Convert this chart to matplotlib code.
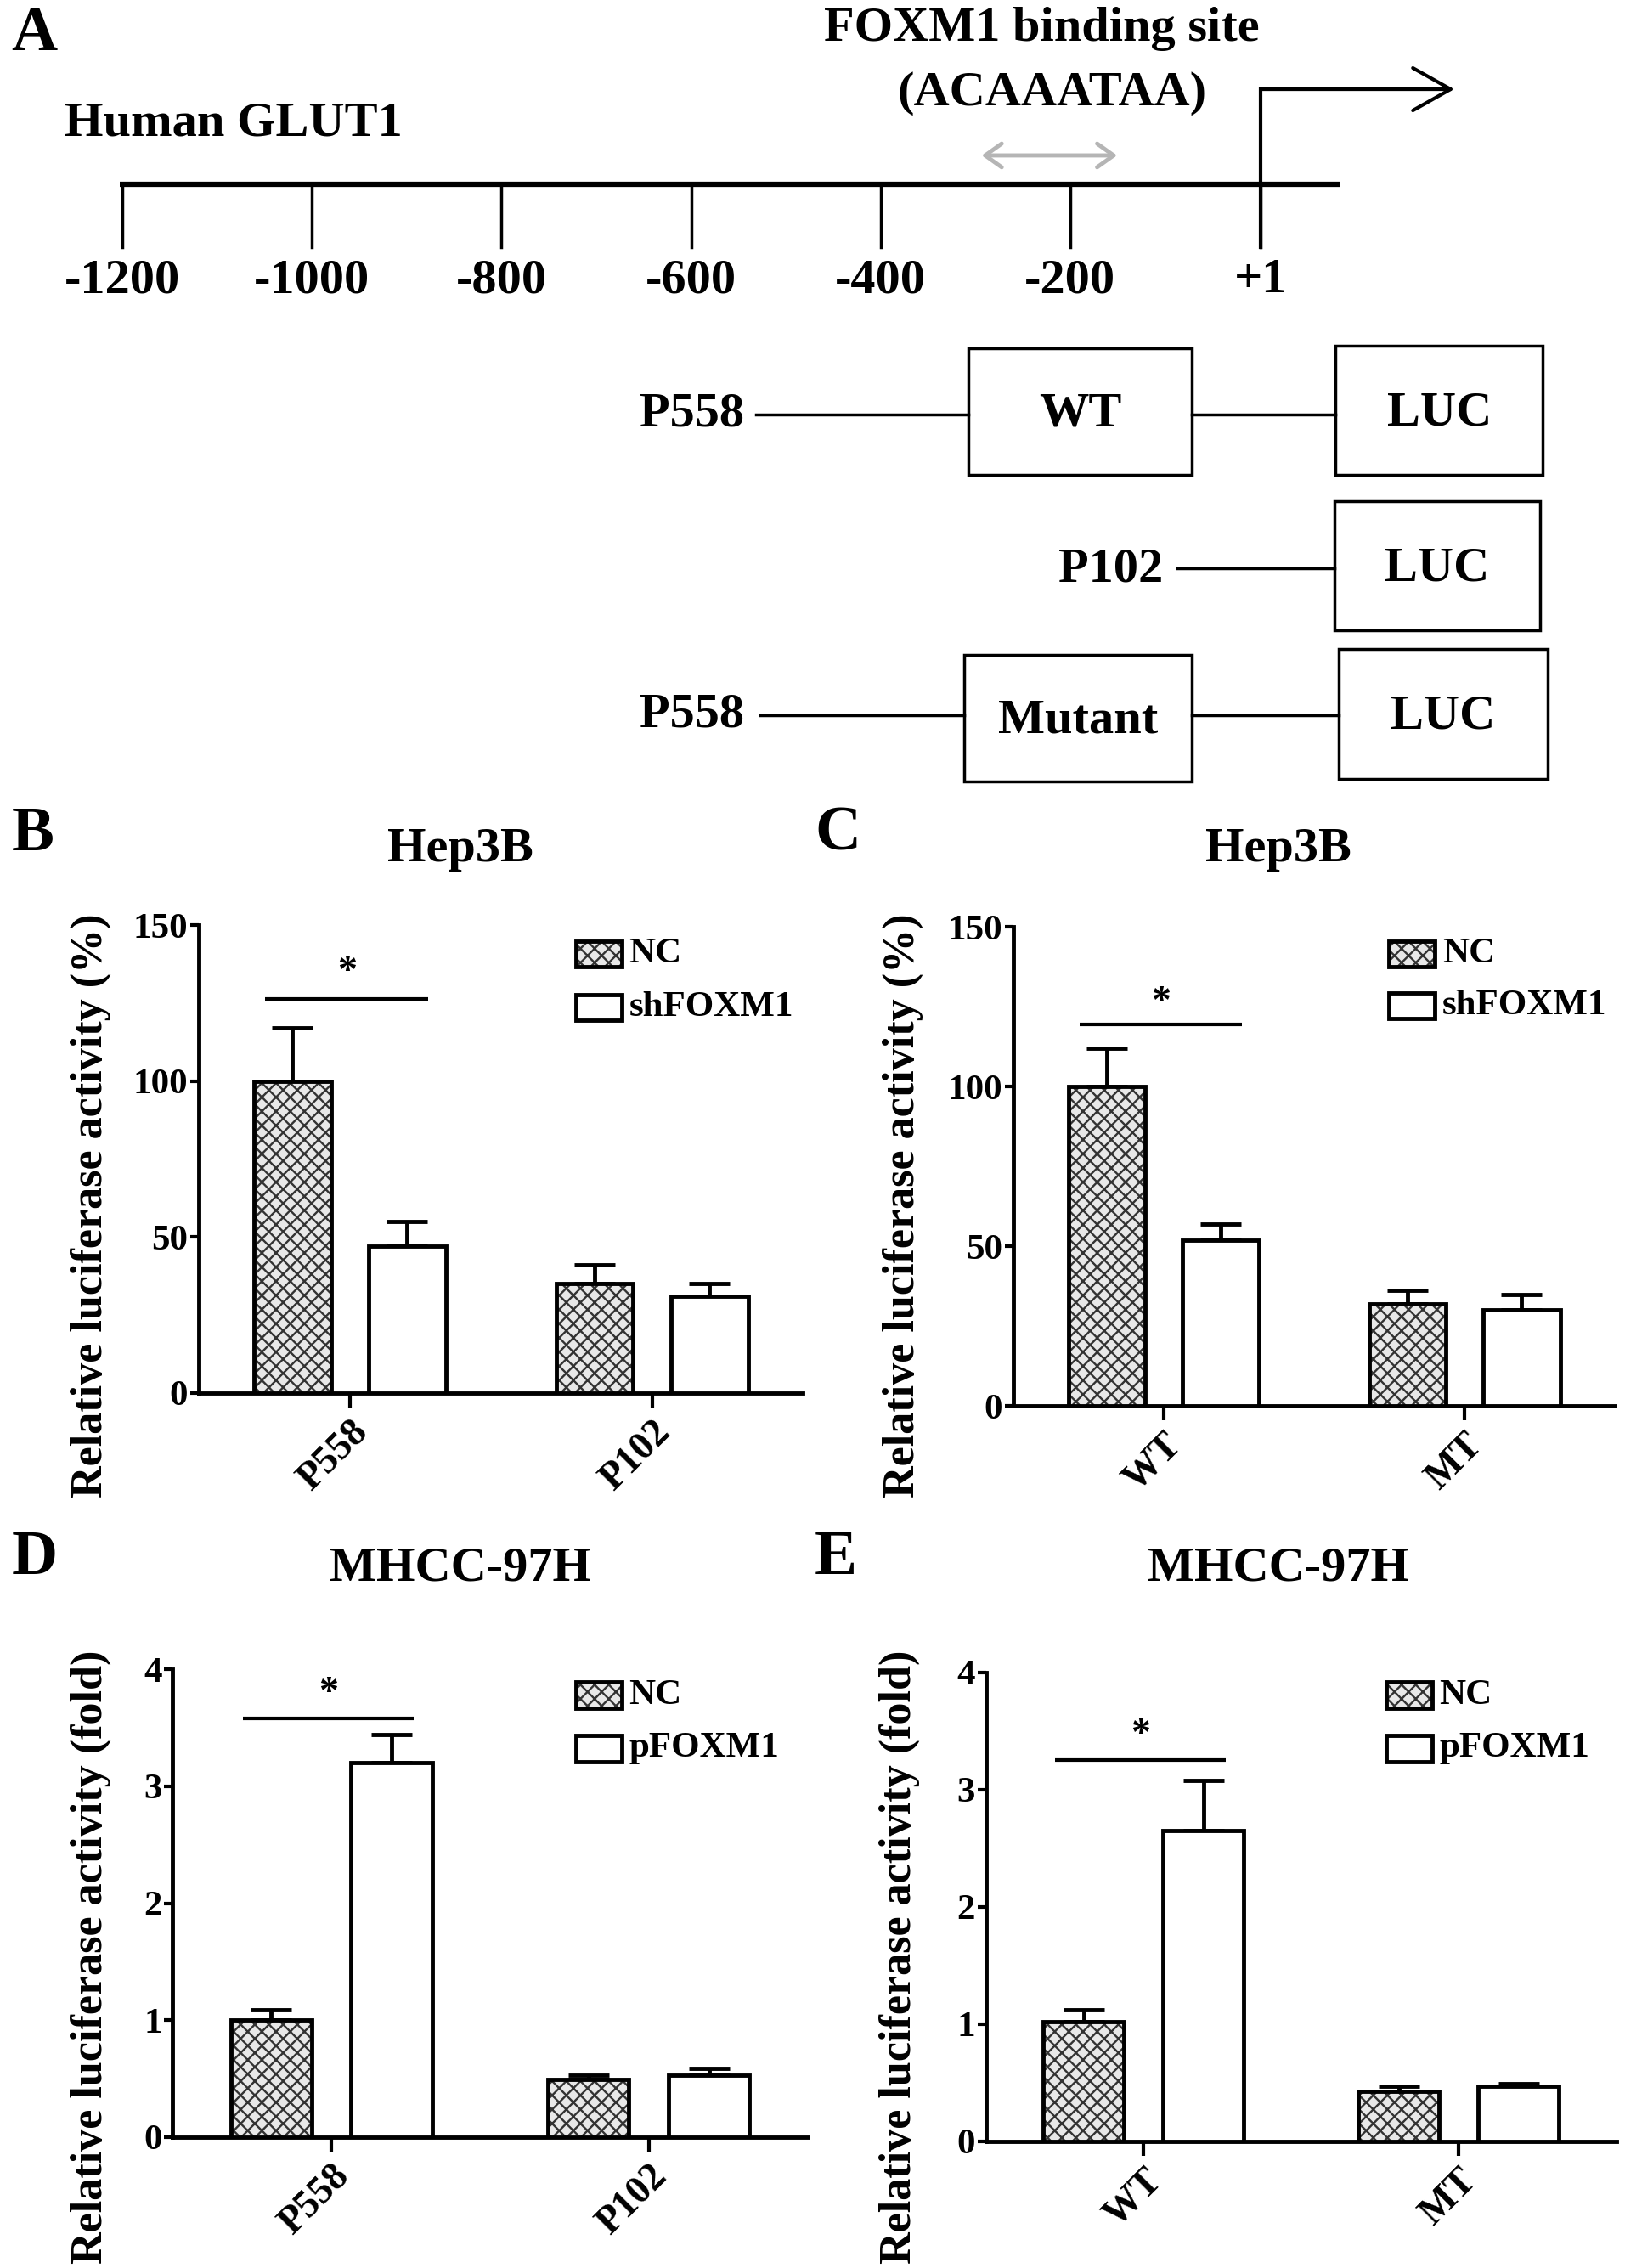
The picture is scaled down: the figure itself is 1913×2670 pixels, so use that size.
import matplotlib
matplotlib.use('Agg')
import matplotlib.pyplot as plt
from matplotlib.patches import Rectangle, FancyArrowPatch
import numpy as np

plt.rcParams['font.family'] = ['Liberation Serif', 'DejaVu Serif']
plt.rcParams['font.weight'] = 'bold'
plt.rcParams['hatch.linewidth'] = 1.7

# ---------------- data ----------------
promoter_ticks = [-1200, -1000, -800, -600, -400, -200, 1]
promoter_labels = ['-1200', '-1000', '-800', '-600', '-400', '-200', '+1']
binding_site_bp = [-296, -148]

cats_B = ['P558', 'P102']
nc_B = [100, 35]
sh_B = [47, 31]
nc_B_err = [17, 6]
sh_B_err = [8, 4]
sig_B = 126.5

cats_C = ['WT', 'MT']
nc_C = [100, 32]
sh_C = [52, 30]
nc_C_err = [12, 4.2]
sh_C_err = [5, 5]
sig_C = 119.5

cats_D = ['P558', 'P102']
nc_D = [1.0, 0.49]
p_D = [3.2, 0.53]
nc_D_err = [0.09, 0.04]
p_D_err = [0.24, 0.06]
sig_D = 3.58

cats_E = ['WT', 'MT']
nc_E = [1.02, 0.43]
p_E = [2.65, 0.47]
nc_E_err = [0.10, 0.04]
p_E_err = [0.43, 0.025]
sig_E = 3.25

W, H = 1129.0, 1576.0
fig = plt.figure(figsize=(19.13, 26.70), dpi=100)

FACE = '#e8e8e8'
HCOL = '#333333'
HATCH = 'xx'


def add_axes_px(l, r, t, b):
    return fig.add_axes([l / W, 1 - b / H, (r - l) / W, (b - t) / H])


def bar_panel(box, cats, nc, tr, nc_err, tr_err, ylim, yticks, sig, star_c):
    ax = add_axes_px(*box)
    ax.patch.set_visible(False)
    x = np.arange(len(cats))
    w, off = 0.255, 0.19
    # hatched fill, then black outline on top
    ax.bar(x - off, nc, w, color=FACE, edgecolor=HCOL, linewidth=0, hatch=HATCH, zorder=3)
    ax.bar(x - off, nc, w, fill=False, edgecolor='k', linewidth=3.5, zorder=4)
    ax.bar(x + off, tr, w, color='white', edgecolor='k', linewidth=3.5, zorder=3)
    ax.errorbar(x - off, nc, yerr=[np.zeros(len(nc)), nc_err], fmt='none', ecolor='k',
                elinewidth=3.5, capsize=17, capthick=3.5, zorder=2)
    ax.errorbar(x + off, tr, yerr=[np.zeros(len(tr)), tr_err], fmt='none', ecolor='k',
                elinewidth=3.5, capsize=17, capthick=3.5, zorder=2)
    ax.set_xlim(-0.5, 1.5)
    ax.set_ylim(*ylim)
    ax.set_yticks(yticks)
    ax.set_yticklabels([str(t) for t in yticks], fontsize=31)
    for s in ['top', 'right']:
        ax.spines[s].set_visible(False)
    for s in ['left', 'bottom']:
        ax.spines[s].set_linewidth(3.5)
    ax.set_xticks(x)
    ax.set_xticklabels(cats, rotation=45, ha='right', va='top', rotation_mode='anchor', fontsize=33)
    ax.tick_params(axis='x', length=12, width=3, direction='out', pad=6)
    ax.tick_params(axis='y', length=7, width=3, direction='out', pad=2)
    ax.plot([-0.28, 0.26], [sig, sig], color='k', lw=3, clip_on=False, solid_capstyle='butt')
    ax.annotate('*', xy=(-0.01, star_c), xytext=(0, -16), textcoords='offset points',
                ha='center', va='baseline', fontsize=33)
    return ax


bar_panel((138, 558, 643, 968), cats_B, nc_B, sh_B, nc_B_err, sh_B_err, (0, 150), [0, 50, 100, 150], sig_B, 138)
bar_panel((704, 1122, 644, 977), cats_C, nc_C, sh_C, nc_C_err, sh_C_err, (0, 150), [0, 50, 100, 150], sig_C, 129)
bar_panel((120, 561, 1160, 1485), cats_D, nc_D, p_D, nc_D_err, p_D_err, (0, 4), [0, 1, 2, 3, 4], sig_D, 3.87)
bar_panel((685, 1123, 1162, 1488), cats_E, nc_E, p_E, nc_E_err, p_E_err, (0, 4), [0, 1, 2, 3, 4], sig_E, 3.54)

# ---------------- overlay (panel A + labels) ----------------
ov = fig.add_axes([0, 0, 1, 1])
ov.set_xlim(0, W)
ov.set_ylim(H, 0)
ov.axis('off')
ov.set_zorder(10)
ov.patch.set_visible(False)


def bp2x(bp):
    return 875.3 + 0.6586 * bp


ov.text(8, 24, 'A', fontsize=54, ha='left', va='center')
ov.text(724, 20, 'FOXM1 binding site', fontsize=42, ha='center', va='center')
ov.text(731, 65, '(ACAAATAA)', fontsize=42, ha='center', va='center')
ov.text(45, 86, 'Human GLUT1', fontsize=42, ha='left', va='center')

ov.plot([bp2x(-1203), bp2x(84)], [128, 128], color='k', lw=4.5, solid_capstyle='butt')
for t, lab in zip(promoter_ticks, promoter_labels):
    xx = bp2x(t)
    ov.plot([xx, xx], [128, 172], color='k', lw=2.5)
    ov.text(xx, 195, lab, fontsize=42, ha='center', va='center')
x1 = bp2x(1)
ov.plot([x1, x1], [172, 62], color='k', lw=3)
ov.add_patch(FancyArrowPatch((x1 - 1, 62), (1012, 62), arrowstyle='->,head_length=1.6,head_width=0.9',
                             mutation_scale=20, color='k', lw=3))
ov.add_patch(FancyArrowPatch((bp2x(binding_site_bp[0]), 108), (bp2x(binding_site_bp[1]), 108),
                             arrowstyle='<->,head_length=0.7,head_width=0.5', mutation_scale=20,
                             color='#b5b5b5', lw=3.5))

# constructs
def box(x0, x1_, y0, y1, label):
    ov.add_patch(Rectangle((x0, y0), x1_ - x0, y1 - y0, fill=False, edgecolor='k', lw=2.5))
    ov.text((x0 + x1_) / 2, (y0 + y1) / 2 + 2, label, fontsize=42, ha='center', va='center')


ov.text(517, 288, 'P558', fontsize=42, ha='right', va='center')
ov.plot([525, 673], [288, 288], color='k', lw=2.5)
box(673, 828, 242, 330, 'WT')
ov.plot([828, 928], [288, 288], color='k', lw=2.5)
box(928, 1072, 240, 330, 'LUC')

ov.text(808, 396, 'P102', fontsize=42, ha='right', va='center')
ov.plot([818, 927], [395, 395], color='k', lw=2.5)
box(927, 1070, 348, 438, 'LUC')

ov.text(517, 497, 'P558', fontsize=42, ha='right', va='center')
ov.plot([528, 670], [497, 497], color='k', lw=2.5)
box(670, 828, 455, 543, 'Mutant')
ov.plot([828, 930], [497, 497], color='k', lw=2.5)
box(930, 1075, 451, 541, 'LUC')

# panel letters, titles, y labels
for letter, (lx, ly) in zip('BCDE', [(8, 580), (566, 580), (8, 1083), (566, 1083)]):
    ov.text(lx, ly, letter, fontsize=54, ha='left', va='center')
for title, (tx, ty) in zip(['Hep3B', 'Hep3B', 'MHCC-97H', 'MHCC-97H'],
                           [(320, 590), (888, 590), (320, 1090), (888, 1090)]):
    ov.text(tx, ty, title, fontsize=42, ha='center', va='center')
for lab, (yx, yy) in zip(['Relative luciferase activity (%)', 'Relative luciferase activity (%)',
                          'Relative luciferase activity (fold)', 'Relative luciferase activity (fold)'],
                         [(63, 838), (627, 838), (63, 1360), (625, 1360)]):
    ov.text(yx, yy, lab, fontsize=37.5, ha='center', va='center', rotation=90)

# legends
def legend(x0, y_nc, y_tr, tr_label):
    ov.add_patch(Rectangle((x0, y_nc - 9), 32, 18, facecolor=FACE, edgecolor=HCOL, lw=0, hatch=HATCH))
    ov.add_patch(Rectangle((x0, y_nc - 9), 32, 18, fill=False, edgecolor='k', lw=3.5))
    ov.add_patch(Rectangle((x0, y_tr - 9), 32, 18, facecolor='white', edgecolor='k', lw=3.5))
    ov.text(x0 + 37, y_nc, 'NC', fontsize=31, ha='left', va='center')
    ov.text(x0 + 37, y_tr, tr_label, fontsize=31, ha='left', va='center')


legend(400, 663, 700, 'shFOXM1')
legend(965, 663, 699, 'shFOXM1')
legend(400, 1178, 1215, 'pFOXM1')
legend(963, 1178, 1215, 'pFOXM1')

fig.savefig('out.png', dpi=100, facecolor='white')
